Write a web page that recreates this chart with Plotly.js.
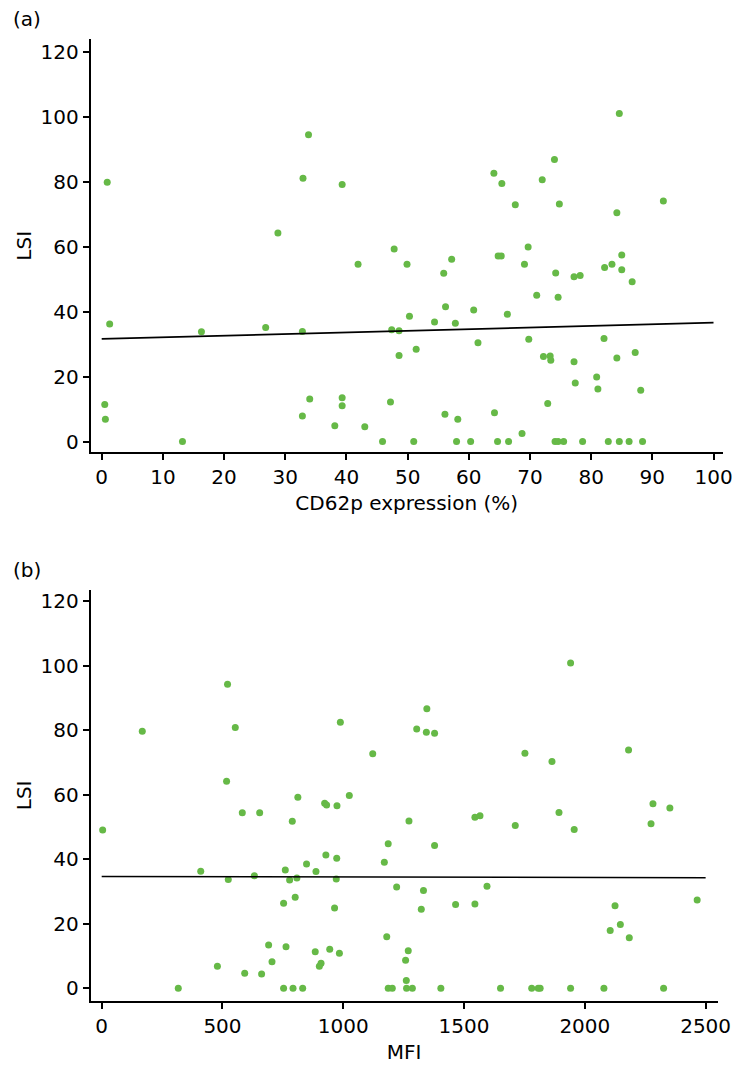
<!DOCTYPE html>
<html>
<head>
<meta charset="utf-8">
<script src="https://cdn.plot.ly/plotly-3.0.1.min.js"></script>
<style>html,body{margin:0;padding:0;background:#fff}#chart{width:734px;height:1066px}</style>
</head>
<body>
<div id="chart"></div>
<script>
// Panel (a): CD62p expression (%) vs LSI
const cd62pX = [0.9,1.3,16.3,0.5,0.6,13.2,33.8,32.9,39.3,28.8,47.8,57.2,64.1,84.6,74.0,65.4,72.0,67.6,74.8,91.8,84.2,69.7,64.8,65.3,85.0,41.9,49.9,55.9,56.2,60.8,50.3,54.4,57.8,26.8,32.8,47.4,48.6,61.5,51.4,48.6,34.0,39.3,39.3,47.2,32.8,38.1,43.0,56.1,58.2,45.9,51.0,58.0,60.3,69.1,82.2,83.4,85.0,74.2,77.2,78.2,86.7,71.1,74.6,66.3,69.8,82.1,72.2,73.3,73.4,87.2,84.2,77.2,80.9,77.4,81.1,88.1,72.9,64.2,68.7,64.7,66.5,74.1,74.6,75.5,78.6,82.8,84.6,86.2,88.4];
const cd62pLSI = [79.8,36.2,33.8,11.4,6.9,0,94.4,81.0,79.1,64.2,59.3,56.1,82.6,101,86.8,79.4,80.6,72.9,73.1,74.0,70.4,59.9,57.1,57.1,57.4,54.6,54.6,51.8,41.5,40.5,38.6,36.8,36.4,35.1,33.9,34.4,34.1,30.4,28.4,26.5,13.1,13.5,11.0,12.2,7.9,4.9,4.6,8.4,6.9,0,0,0,0,54.6,53.6,54.6,52.9,51.9,50.7,51.1,49.2,45.0,44.4,39.2,31.5,31.7,26.2,26.3,25.0,27.4,25.7,24.6,19.9,18.0,16.2,15.8,11.7,8.9,2.5,0,0,0,0,0,0,0,0,0,0];
const fitAX = [0, 100];
const fitAY = [31.6, 36.6];

// Panel (b): MFI vs LSI
const mfiX = [521,553,168,517,1346,988,1304,1344,1378,1122,812,1025,923,931,974,582,654,789,1272,1545,1566,1941,1752,1864,2181,2282,2352,1893,1712,2274,1956,1595,2465,2125,2147,2105,2184,1651,1780,1807,1815,1941,2079,2326,1186,1378,928,973,1170,848,760,887,632,778,808,971,1221,1332,801,753,964,1323,1465,1545,1180,691,763,884,944,984,1269,1258,705,908,901,592,662,1261,753,792,832,1186,1203,1262,1286,1404,4,410,524,479,317];
const mfiLSI = [94.3,80.9,79.7,64.2,86.7,82.5,80.4,79.4,79.1,72.7,59.2,59.8,57.4,56.8,56.6,54.4,54.4,51.8,51.9,53.0,53.5,100.9,72.9,70.3,73.9,57.2,55.9,54.5,50.5,51.0,49.2,31.6,27.4,25.6,19.8,17.9,15.7,0,0,0,0,0,0,0,44.8,44.3,41.3,40.3,39.1,38.5,36.7,36.2,34.9,33.6,34.2,33.9,31.4,30.3,28.2,26.4,24.9,24.5,26.0,26.1,16.0,13.4,12.9,11.3,12.1,10.9,11.6,8.7,8.2,7.8,6.8,4.7,4.4,2.4,0,0,0,0,0,0,0,0,49.1,36.3,33.7,6.8,0];
const fitBX = [0, 2500];
const fitBY = [34.7, 34.3];

const xTicksA = [0,10,20,30,40,50,60,70,80,90,100];
const xTicksB = [0,500,1000,1500,2000,2500];
const yTicks = [0,20,40,60,80,100,120];

const green = '#66b947';
const fontFam = '"DejaVu Sans", "Open Sans", Arial, sans-serif';
const FS = 20;

const traces = [
  {x: cd62pX, y: cd62pLSI, type: 'scatter', mode: 'markers', xaxis: 'x', yaxis: 'y',
   marker: {color: green, size: 7}, showlegend: false, hoverinfo: 'x+y'},
  {x: fitAX, y: fitAY, type: 'scatter', mode: 'lines', xaxis: 'x', yaxis: 'y',
   line: {color: '#000', width: 1.8}, showlegend: false},
  {x: mfiX, y: mfiLSI, type: 'scatter', mode: 'markers', xaxis: 'x2', yaxis: 'y2',
   marker: {color: green, size: 7}, showlegend: false, hoverinfo: 'x+y'},
  {x: fitBX, y: fitBY, type: 'scatter', mode: 'lines', xaxis: 'x2', yaxis: 'y2',
   line: {color: '#000', width: 1.5}, showlegend: false}
];

const W = 734, H = 1066;
function axBase() {
  return {
    showgrid: false, zeroline: false, showline: true, linecolor: '#000', linewidth: 2,
    ticks: 'outside', ticklen: 6, tickwidth: 2, tickcolor: '#000',
    tickfont: {family: fontFam, size: FS, color: '#000'}, mirror: false
  };
}

const layout = {
  width: W, height: H,
  margin: {l: 0, r: 0, t: 0, b: 0},
  paper_bgcolor: '#fff', plot_bgcolor: '#fff',
  font: {family: fontFam, color: '#000'},
  xaxis: Object.assign(axBase(), {
    domain: [90.7/W, 722.7/W], anchor: 'y', range: [-1.8, 101.5],
    tickmode: 'array', tickvals: xTicksA,
    title: {text: 'CD62p expression (%)', font: {family: fontFam, size: FS, color: '#000'}, standoff: 8}
  }),
  yaxis: Object.assign(axBase(), {
    domain: [1 - 452.3/H, 1 - 39.3/H], anchor: 'x', range: [-3.3, 123.8],
    tickmode: 'array', tickvals: yTicks,
    title: {text: 'LSI', font: {family: fontFam, size: FS, color: '#000'}, standoff: 4}
  }),
  xaxis2: Object.assign(axBase(), {
    domain: [90.7/W, 717.7/W], anchor: 'y2', range: [-45.5, 2550],
    tickmode: 'array', tickvals: xTicksB,
    title: {text: 'MFI', font: {family: fontFam, size: FS, color: '#000'}, standoff: 8}
  }),
  yaxis2: Object.assign(axBase(), {
    domain: [1 - 1000.7/H, 1 - 590/H], anchor: 'x2', range: [-3.85, 123.5],
    tickmode: 'array', tickvals: yTicks,
    title: {text: 'LSI', font: {family: fontFam, size: FS, color: '#000'}, standoff: 4}
  }),
  annotations: [
    {text: '(a)', xref: 'paper', yref: 'paper', x: 11/W, y: 1 - 19/H, xanchor: 'left', yanchor: 'middle',
     showarrow: false, font: {family: fontFam, size: FS, color: '#000'}},
    {text: '(b)', xref: 'paper', yref: 'paper', x: 11/W, y: 1 - 570/H, xanchor: 'left', yanchor: 'middle',
     showarrow: false, font: {family: fontFam, size: FS, color: '#000'}}
  ]
};

Plotly.newPlot('chart', traces, layout, {displayModeBar: false, staticPlot: true});
</script>
</body>
</html>
